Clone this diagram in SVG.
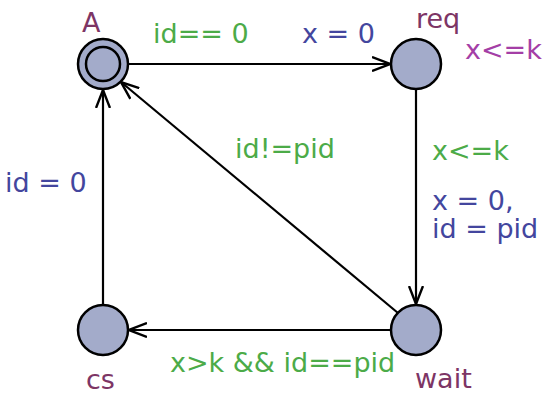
<svg xmlns="http://www.w3.org/2000/svg" width="547" height="394" viewBox="0 0 547 394">
<defs>
<style>
text{font-family:"DejaVu Sans","Liberation Sans",sans-serif;font-size:27px}
.loc{fill:#7d3565}
.inv{fill:#a43ea6}
.grd{fill:#4cab48}
.upd{fill:#43469e}
.node{fill:#a3abca;stroke:#000;stroke-width:2.5}
.edge{fill:none;stroke:#000;stroke-width:2.2}
</style>
<marker id="arr" viewBox="0 0 19 16" refX="18" refY="8" markerWidth="19" markerHeight="16" markerUnits="userSpaceOnUse" orient="auto">
<path d="M0,1 L18,8 L0,15" fill="none" stroke="#000" stroke-width="2.4"/>
</marker>
</defs>
<g id="edges">
<line class="edge" x1="128" y1="64" x2="390" y2="64" marker-end="url(#arr)"/>
<line class="edge" x1="416" y1="89" x2="416" y2="304" marker-end="url(#arr)"/>
<line class="edge" x1="391" y1="330" x2="129" y2="330" marker-end="url(#arr)"/>
<line class="edge" x1="103" y1="305" x2="103" y2="90" marker-end="url(#arr)"/>
<line class="edge" x1="398" y1="313" x2="121" y2="82" marker-end="url(#arr)"/>
<text class="grd" x="153" y="43">id== 0</text>
<text class="upd" x="302" y="43">x = 0</text>
<text class="grd" x="235" y="158">id!=pid</text>
<text class="grd" x="432" y="160">x&lt;=k</text>
<text class="upd" x="432" y="210">x = 0,</text>
<text class="upd" x="432" y="238">id = pid</text>
<text class="upd" x="5" y="192">id = 0</text>
<text class="grd" x="170" y="372">x&gt;k &amp;&amp; id==pid</text>
</g>
<g id="A">
<circle class="node" cx="103" cy="64" r="25"/>
<circle class="node" cx="103" cy="64" r="17"/>
<text class="loc" x="82" y="32">A</text>
</g>
<g id="req">
<circle class="node" cx="416" cy="64" r="25"/>
<text class="loc" x="416" y="28">req</text>
<text class="inv" x="465" y="59">x&lt;=k</text>
</g>
<g id="cs">
<circle class="node" cx="103" cy="330" r="25"/>
<text class="loc" x="86" y="389">cs</text>
</g>
<g id="wait">
<circle class="node" cx="416" cy="330" r="25"/>
<text class="loc" x="415" y="388">wait</text>
</g>
</svg>
